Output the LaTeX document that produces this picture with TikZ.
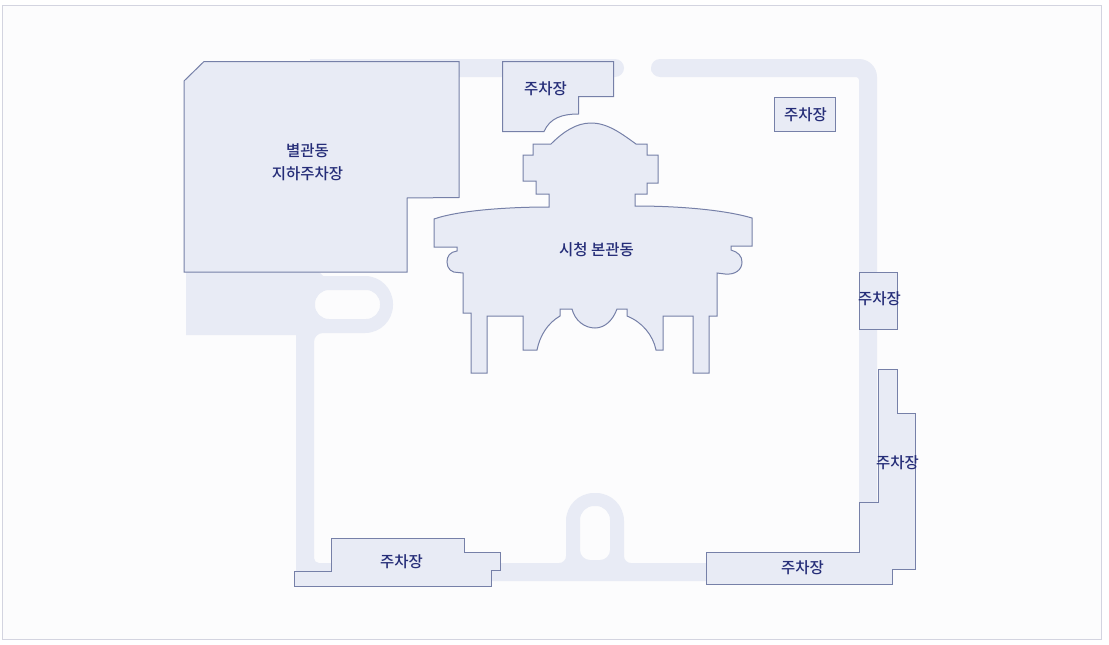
\documentclass[tikz,border=0pt]{standalone}
\usepackage{fontspec}
\setmainfont{Noto Sans CJK KR Medium}
\usepackage{tikz}

\definecolor{framecol}{HTML}{D3D4E0}
\definecolor{backcol}{HTML}{FCFCFD}
\definecolor{roadcol}{HTML}{E8EBF5}
\definecolor{linecol}{HTML}{7680A8}
\definecolor{textcol}{HTML}{252D78}

\begin{document}
\begin{tikzpicture}[x=1pt,y=-1pt,
                    road/.style={fill=roadcol,draw=none},
                    building/.style={fill=roadcol,draw=linecol,line width=1pt,line join=miter},
                    label node/.style={text=textcol,font=\fontsize{15.5}{15.5}\selectfont,inner sep=0pt,align=center}]

  \useasboundingbox (0,0) rectangle (1109,645);
  \draw[framecol,fill=backcol,line width=1pt] (2,5.5) rectangle (1101,639);

  % roads
  \path[road] (310,59) -- (605,59) [rounded corners=9pt] -- (624,59) -- (624,77) [sharp corners] -- (605,77) -- (310,77) -- cycle;
  \path[road] (651,77) [rounded corners=9pt] -- (651,59) -- (670,59) [rounded corners=18pt] -- (877,59) [sharp corners] -- (877,503) -- (859,503) [rounded corners=3pt] -- (859,77) [rounded corners=9pt] -- (651,77) -- cycle;
  \path[road,even odd rule] (186,272) -- (319,272) -- (323,276) [rounded corners=28pt] -- (393,276) -- (393,333) [rounded corners=9pt] -- (314,333) [rounded corners=5pt] -- (314,563)
     [rounded corners=7pt] -- (566,563) [rounded corners=28pt] -- (566,493) -- (624,493) [rounded corners=7pt] -- (624,563) [sharp corners] -- (706,563) -- (706,581) -- (296,581) -- (296,335) -- (186,335) -- cycle
     [rounded corners=14pt] (315,290) -- (380,290) -- (380,319) -- (315,319) -- cycle
     [rounded corners=14pt] (595,506) -- (610,506) [rounded corners=10pt] -- (610,560) -- (580,560) [rounded corners=14pt] -- (580,506) -- cycle;

  % buildings
  \draw[building] (184,81) -- (204,61.5) -- (459,61.5) -- (459,197.5) -- (407,198) -- (407,272) -- (184,272) -- cycle;
  \draw[building] (591,123) .. controls (608,123) and (622,134) .. (636,144) -- (647,144) -- (647,155) -- (658,155) -- (658,183) -- (647,183) -- (647,194) -- (635,194) -- (635,206)
     .. controls (680,206) and (725,210) .. (752,218) -- (752,246) -- (731,246) -- (731,250) .. controls (738,252) and (742,256) .. (742,262) .. controls (742,270) and (735,275) .. (725,274) -- (717,273)
     -- (717,316) -- (709,316) -- (709,373) -- (693,373) -- (693,316) -- (663,316) -- (663,350) -- (656,350) .. controls (653,335) and (642,322) .. (627,316) -- (627,309) -- (617,309)
     .. controls (613,320) and (605,328) .. (595,328) .. controls (585,328) and (575,321) .. (572,309) -- (560,309) -- (560,316) .. controls (548,323) and (540,335) .. (537,350) -- (523,350) -- (523,316)
     -- (487,316) -- (487,373) -- (471,373) -- (471,313) -- (463,313) -- (463,273) -- (458,272.5) .. controls (452,273) and (447,269) .. (447,262) .. controls (447,256) and (450,252) .. (457,251) -- (457,247)
     -- (434,247) -- (434,219) .. controls (460,210) and (510,207) .. (549,207) -- (549,194) -- (536,194) -- (536,181) -- (523,181) -- (523,155) -- (533,155) -- (533,144) -- (551,144)
     .. controls (563,132) and (576,123) .. (591,123) -- cycle;

  % parking
  \draw[building] (502.5,61.5) -- (613.5,61.5) -- (613.5,96.5) -- (578.5,96.5) -- (578.5,114) .. controls (562,114) and (550,118) .. (544,131.5) -- (502.5,131.5) -- cycle;
  \draw[building] (774.5,97.5) rectangle (835.5,131.5);
  \draw[building] (859.5,272.5) rectangle (897,329);
  \draw[building] (878.5,369) -- (897,369) -- (897,413) -- (915.5,413) -- (915.5,569) -- (892,569) -- (892,584) -- (706,584) -- (706,552) -- (859,552) -- (859,502.5) -- (878.5,502.5) -- cycle;
  \draw[building] (331.5,538) -- (464.5,538) -- (464.5,552) -- (500.5,552) -- (500.5,570) -- (491.5,570) -- (491.5,586) -- (294.5,586) -- (294.5,571) -- (331.5,571) -- cycle;

  \node[label node] (annex) at (307.5,150.7) {별관동};
  \node[label node] (annexparking) at (307.5,174) {지하주차장};
  \node[label node] (hall) at (596.5,250) {시청 본관동};
  \node[label node] (parking1) at (545.5,88.7) {주차장};
  \node[label node] (parking2) at (805.5,114.7) {주차장};
  \node[label node] (parking3) at (879.5,298.7) {주차장};
  \node[label node] (parking4) at (897.5,462.7) {주차장};
  \node[label node] (parking5) at (802.5,567.7) {주차장};
  \node[label node] (parking6) at (401.5,561.7) {주차장};
\end{tikzpicture}
\end{document}
